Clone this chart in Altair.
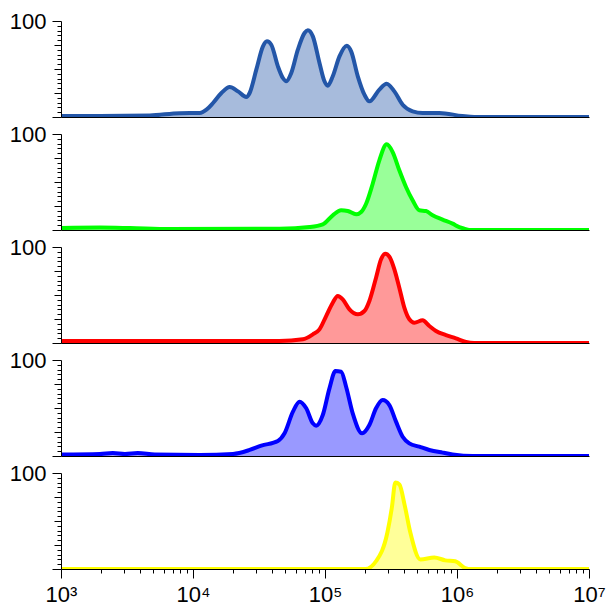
import altair as alt
import pandas as pd

# ---- data (x = fluorescence, y = % of max) ----
p1_x = [1000, 1970, 4710, 7940, 11250, 12640, 14190, 16410, 18970, 21930, 25350,
        26860, 30170, 33880, 36310, 39170, 43970, 47970, 50880, 55500, 62280,
        69960, 74130, 80890, 90830, 99090, 104900, 114500, 128700, 146300, 157800,
        177200, 198900, 216900, 258100, 293200, 335400, 387500, 461100, 549200,
        735000, 1096000, 1350000, 10000000]
p1_y = [1, 1, 1.5, 4, 4.2, 7.6, 14.6, 25, 31.3, 26.7, 20.8,
        25, 49.3, 73.6, 78.8, 75.3, 52.8, 40.6, 37.2, 45.8, 70.1,
        87.5, 90.3, 84, 56.3, 37.2, 32.6, 42.4, 63.2, 74.3, 68.4,
        42.4, 23.3, 16.3, 28.5, 34.7, 26.7, 12.8, 5.9, 4.2,
        4.2, 1, 0, 0]

p2_x = [1000, 1970, 3330, 6670, 45300, 76400, 96200, 114500, 132500, 148600, 172100,
        187800, 204900, 229800, 258100, 293200, 325600, 365600, 410800, 461100,
        518500, 582300, 653700, 777900, 925600, 1039000, 1134000, 1238000, 10000000]
p2_y = [2, 2.5, 2, 1, 1.4, 3.1, 5.9, 15.3, 20.5, 19.8, 16.3,
        18.8, 27.4, 48.2, 72.6, 89.2, 81.2, 62.2, 44.8, 30.9,
        20.5, 19.8, 15.3, 10.8, 6.6, 3.1, 1.4, 0, 0]

p3_x = [1000, 11200, 45300, 67900, 80900, 90800, 102000, 114500, 124900, 136300,
        153200, 177200, 198900, 216900, 243600, 265900, 286600, 311000, 335400,
        365600, 399000, 435400, 475200, 549200, 617000, 693100, 824500, 981100,
        1170000, 1349000, 10000000]
p3_y = [2, 2, 2.1, 3.8, 9, 14.2, 28.1, 42, 49, 45.5,
        35.1, 29.9, 33.3, 43.8, 68, 87.2, 93, 88.9, 76.7,
        57.6, 36.8, 24.7, 21.2, 23.6, 17.7, 12.5, 8.3, 4.9,
        1, 0, 0]

p4_x = [1000, 1970, 2470, 3050, 3820, 5140, 11250, 20100, 26860, 32960, 43970,
        49380, 57150, 64180, 72100, 80890, 85750, 96200, 108100, 120000, 132500,
        144500, 162200, 191000, 216900, 243600, 273500, 307300, 345200, 387500,
        435400, 518500, 617000, 777900, 925600, 1312000, 10000000]
p4_y = [1.5, 2, 3, 2, 3, 1.5, 1, 2.1, 6.3, 10.8, 15.6,
        23.6, 46.2, 56.6, 49.7, 34, 31.6, 42.7, 70.5, 88.5, 87.8,
        72.2, 44.4, 23.6, 32.3, 49.7, 58.3, 53.1, 35.8, 20.1,
        13.2, 9.7, 6.3, 3.5, 1.7, 0, 0]

p5_x = [1000, 202000, 245000, 297000, 321000, 341000, 366000, 402000, 443000,
        528000, 673000, 815000, 970000, 1153000, 1280000, 10000000]
p5_y = [0, 0, 8.6, 38, 64, 90, 88, 66, 38, 10, 12, 9, 8, 1, 0, 0]

line_colors = ["#2356a8", "#00ff00", "#ff0000", "#0000ff", "#ffff00"]
fill_colors = ["#a7bbdc", "#99ff99", "#ff9999", "#9999ff", "#ffff99"]

x_ticks = [m * 10 ** e for e in range(3, 7) for m in range(1, 10)] + [10 ** 7]
y_ticks = list(range(0, 101, 5))

FONT = "Liberation Sans"

x_label_expr = (
    "abs(log(datum.value)/LN10 - round(log(datum.value)/LN10)) < 1e-6 ? "
    "'10' + ['\u2070','\u00b9','\u00b2','\u00b3','\u2074','\u2075','\u2076','\u2077']"
    "[round(log(datum.value)/LN10)] : ''"
)
x_tick_expr = "abs(log(datum.value)/LN10 - round(log(datum.value)/LN10)) < 1e-6 ? 9 : 4"
y_tick_expr = "datum.value % 100 == 0 ? 9 : (datum.value % 25 == 0 ? 7 : 4)"


def panel(xs, ys, color, fill, bottom=False):
    df = pd.DataFrame({"x": xs, "y": ys})
    xscale = alt.Scale(type="log", domain=[1e3, 1e7], nice=False)
    yscale = alt.Scale(domain=[0, 100], nice=False)
    if bottom:
        xaxis = alt.Axis(values=x_ticks, labelExpr=x_label_expr,
                         tickSize={"expr": x_tick_expr}, title=None, grid=False,
                         labelFont=FONT, labelFontSize=22, labelColor="black",
                         labelPadding=6, labelFlush=False, labelOverlap=False,
                         labelBound=False, domainColor="black", tickColor="black",
                         domainWidth=1, tickWidth=1, zindex=1)
    else:
        xaxis = alt.Axis(labels=False, ticks=False, title=None, grid=False,
                         domainColor="black", domainWidth=1, zindex=1)
    yaxis = alt.Axis(values=y_ticks, labelExpr="datum.value == 100 ? '100' : ''",
                     tickSize={"expr": y_tick_expr}, title=None, grid=False,
                     labelFont=FONT, labelFontSize=22, labelColor="black",
                     labelPadding=6, labelOverlap=False, labelFlush=False,
                     labelBound=False, domainColor="black", tickColor="black",
                     domainWidth=1, tickWidth=1, zindex=1)
    base = alt.Chart(df).encode(
        x=alt.X("x:Q", scale=xscale, axis=xaxis),
        y=alt.Y("y:Q", scale=yscale, axis=yaxis),
    )
    area = base.mark_area(interpolate="monotone", color=fill, opacity=1, clip=True)
    line = base.mark_line(interpolate="monotone", color=color, strokeWidth=4, clip=True)
    return (area + line).properties(width=528, height=96)


panels = [
    panel(p1_x, p1_y, line_colors[0], fill_colors[0]),
    panel(p2_x, p2_y, line_colors[1], fill_colors[1]),
    panel(p3_x, p3_y, line_colors[2], fill_colors[2]),
    panel(p4_x, p4_y, line_colors[3], fill_colors[3]),
    panel(p5_x, p5_y, line_colors[4], fill_colors[4], bottom=True),
]

chart = alt.vconcat(*panels, spacing=17, bounds="flush").properties(
    padding={"left": 1, "top": 2, "right": 0, "bottom": 0},
    background="white",
).configure_view(stroke=None)

chart.save("out.html", embed_options={"renderer": "svg", "actions": False})
